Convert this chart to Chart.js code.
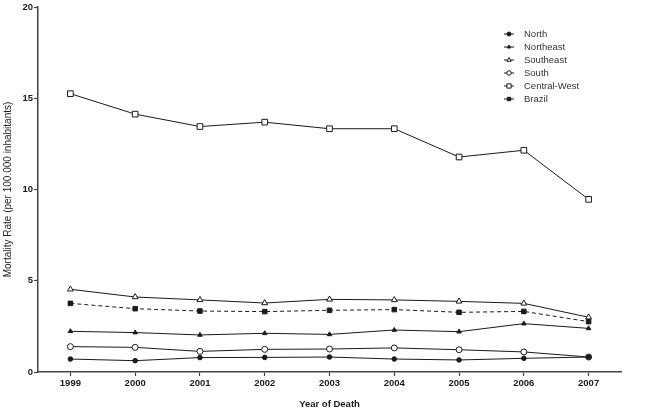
<!DOCTYPE html>
<html>
<head>
<meta charset="utf-8">
<script src="https://cdn.jsdelivr.net/npm/chart.js@4.4.1/dist/chart.umd.min.js"></script>
<style>
  html, body { margin: 0; padding: 0; background: #fff; }
  #wrap { width: 652px; height: 411px; }
</style>
</head>
<body>
<div id="wrap"><canvas id="chart"></canvas></div>
<script>
const years = ['1999', '2000', '2001', '2002', '2003', '2004', '2005', '2006', '2007'];
const north = [0.71, 0.62, 0.79, 0.80, 0.82, 0.71, 0.66, 0.75, 0.82];
const northeast = [2.23, 2.16, 2.03, 2.12, 2.06, 2.30, 2.21, 2.65, 2.39];
const southeast = [4.53, 4.11, 3.95, 3.78, 3.98, 3.95, 3.87, 3.76, 3.00];
const south = [1.39, 1.35, 1.13, 1.24, 1.26, 1.32, 1.22, 1.10, 0.82];
const centralWest = [15.25, 14.13, 13.45, 13.69, 13.33, 13.33, 11.78, 12.15, 9.46];
const brazil = [3.76, 3.47, 3.34, 3.31, 3.38, 3.42, 3.27, 3.32, 2.76];

const ink = '#1a1a1a';
const axisColor = '#444';
const fontFam = '"Liberation Sans", Arial, sans-serif';

function serie(label, data, style, radius, filled, dash) {
    return {
        label: label,
        data: data,
        borderColor: ink,
        borderWidth: 1,
        borderDash: dash || [],
        pointStyle: style,
        pointRadius: radius,
        pointHoverRadius: radius,
        pointBorderColor: ink,
        pointBorderWidth: 1,
        pointBackgroundColor: filled ? ink : '#fff',
        fill: false,
        tension: 0
    };
}

// leyenda propia, dibujada dentro del area del grafico
const legendBox = {
    id: 'legendBox',
    afterDraw(chart) {
        const ctx = chart.ctx;
        ctx.save();
        chart.data.datasets.forEach((ds, i) => {
            const x = 504;
            const y = 34 + i * 13;
            ctx.setLineDash([]);
            ctx.strokeStyle = ink;
            ctx.lineWidth = 1;
            ctx.beginPath();
            ctx.moveTo(x, y);
            ctx.lineTo(x + 10, y);
            ctx.stroke();
            ctx.fillStyle = ds.pointBackgroundColor;
            ctx.strokeStyle = ink;
            Chart.helpers.drawPoint(ctx, { pointStyle: ds.pointStyle, radius: Math.max(2, ds.pointRadius * 0.75), borderWidth: 1, rotation: 0 }, x + 5, y);
            ctx.fillStyle = '#333';
            ctx.font = '9.5px ' + fontFam;
            ctx.textBaseline = 'middle';
            ctx.textAlign = 'left';
            ctx.fillText(ds.label, x + 20, y);
        });
        ctx.restore();
    }
};

const config = {
    type: 'line',
    data: {
        labels: years,
        datasets: [
            serie('North', north, 'circle', 2.3, true),
            serie('Northeast', northeast, 'triangle', 2.6, true),
            serie('Southeast', southeast, 'triangle', 3.4, false),
            serie('South', south, 'circle', 3, false),
            serie('Central-West', centralWest, 'rect', 4, false),
            serie('Brazil', brazil, 'rect', 3.2, true, [4, 3])
        ]
    },
    options: {
        responsive: true,
        maintainAspectRatio: false,
        animation: false,
        layout: {
            padding: { top: 7, right: 31, left: 0, bottom: 0 }
        },
        plugins: {
            legend: { display: false },
            tooltip: { enabled: false }
        },
        scales: {
            x: {
                type: 'category',
                offset: true,
                afterFit(scale) { scale.height = 39; },
                grid: {
                    offset: false,
                    drawOnChartArea: false,
                    tickLength: 4,
                    tickColor: axisColor,
                    tickWidth: 1.2
                },
                border: { display: true, color: axisColor, width: 1.5 },
                ticks: {
                    color: ink,
                    padding: 2,
                    maxRotation: 0,
                    font: { family: fontFam, size: 9.5, weight: 'bold' }
                },
                title: {
                    display: true,
                    text: 'Year of Death',
                    color: ink,
                    padding: { top: 0, bottom: 1 },
                    font: { family: fontFam, size: 9.5, weight: 'bold' }
                }
            },
            y: {
                min: 0,
                max: 20,
                afterFit(scale) { scale.width = 38; },
                grid: {
                    drawOnChartArea: false,
                    tickLength: 4,
                    tickColor: axisColor,
                    tickWidth: 1.2
                },
                border: { display: true, color: axisColor, width: 1.5 },
                ticks: {
                    stepSize: 5,
                    color: ink,
                    padding: 1,
                    font: { family: fontFam, size: 9.5, weight: 'bold' }
                },
                title: {
                    display: true,
                    text: 'Mortality Rate (per 100.000 inhabitants)',
                    color: '#222',
                    padding: { top: 2, bottom: 0 },
                    font: { family: fontFam, size: 10, weight: 'normal' }
                }
            }
        }
    },
    plugins: [legendBox]
};

var chart = document.getElementById('chart');
var myChart = new Chart(chart, config);
</script>
</body>
</html>
